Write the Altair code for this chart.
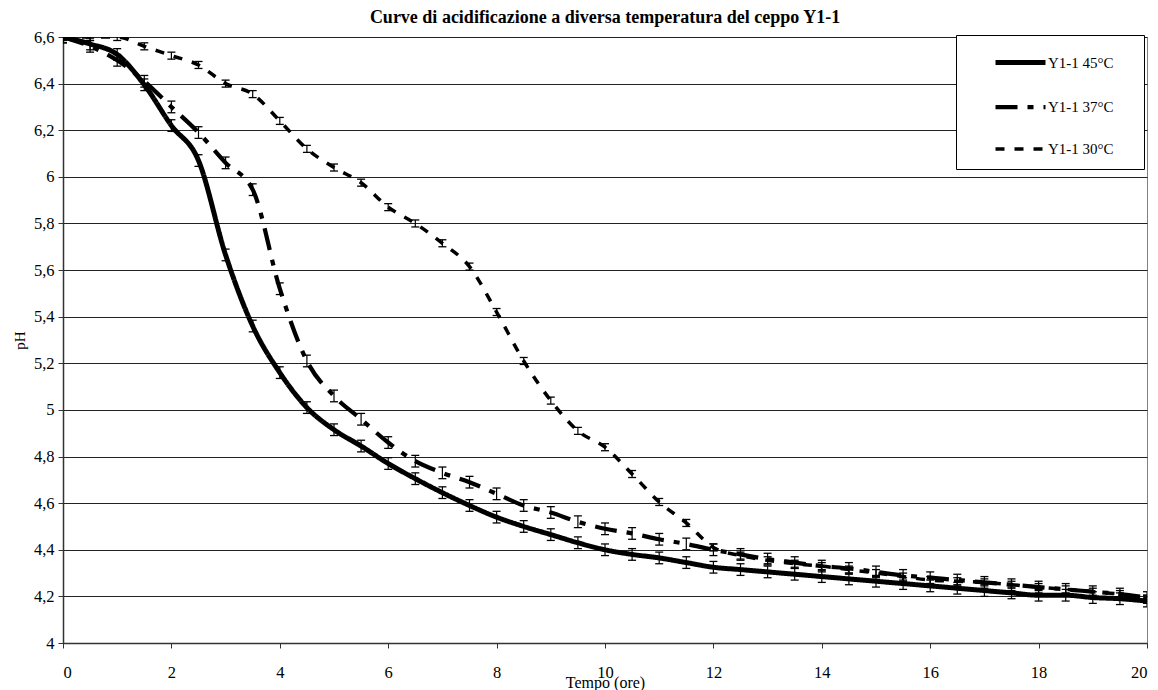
import altair as alt
import pandas as pd

TEMPO = [0, 0.5, 1, 1.5, 2, 2.5, 3, 3.5, 4, 4.5, 5, 5.5, 6, 6.5, 7, 7.5, 8, 8.5, 9, 9.5,
         10, 10.5, 11, 11.5, 12, 12.5, 13, 13.5, 14, 14.5, 15, 15.5, 16, 16.5, 17, 17.5,
         18, 18.5, 19, 19.5, 20]

PH_45 = [6.60, 6.57, 6.525, 6.395, 6.22, 6.07, 5.665, 5.36, 5.16, 5.01, 4.915, 4.845,
         4.77, 4.705, 4.645, 4.59, 4.54, 4.50, 4.465, 4.43, 4.40, 4.38, 4.365, 4.345,
         4.325, 4.315, 4.305, 4.295, 4.285, 4.275, 4.265, 4.255, 4.245, 4.235, 4.225,
         4.215, 4.205, 4.205, 4.195, 4.19, 4.18]

PH_37 = [6.60, 6.56, 6.50, 6.41, 6.30, 6.19, 6.06, 5.945, 5.52, 5.21, 5.06, 4.96,
         4.86, 4.78, 4.73, 4.69, 4.64, 4.59, 4.56, 4.52, 4.49, 4.47, 4.445, 4.425,
         4.40, 4.38, 4.36, 4.345, 4.33, 4.32, 4.305, 4.29, 4.28, 4.27, 4.26, 4.25,
         4.24, 4.23, 4.22, 4.21, 4.195]

PH_30 = [6.60, 6.60, 6.60, 6.56, 6.52, 6.48, 6.40, 6.355, 6.24, 6.12, 6.04, 5.975,
         5.87, 5.80, 5.715, 5.615, 5.42, 5.21, 5.04, 4.91, 4.84, 4.725, 4.605, 4.515,
         4.41, 4.375, 4.355, 4.34, 4.33, 4.315, 4.30, 4.285, 4.27, 4.265, 4.26, 4.25,
         4.24, 4.23, 4.22, 4.21, 4.19]

ERR_45 = 0.025
ERR_37 = 0.025
ERR_30 = 0.015

SERIE = ["Y1-1 45°C", "Y1-1 37°C", "Y1-1 30°C"]
X_TICKS = [0, 2, 4, 6, 8, 10, 12, 14, 16, 18, 20]
Y_TICKS = [4.0, 4.2, 4.4, 4.6, 4.8, 5.0, 5.2, 5.4, 5.6, 5.8, 6.0, 6.2, 6.4, 6.6]

rows = []
for name, vals, err in zip(SERIE, [PH_45, PH_37, PH_30], [ERR_45, ERR_37, ERR_30]):
    for t, v in zip(TEMPO, vals):
        rows.append({"Tempo": t, "pH": v, "Serie": name, "lo": v - err, "hi": v + err})
df = pd.DataFrame(rows)

FONT = "Liberation Serif"
PAD = "\u00a0" * 5 + "\u2800"   # trailing blank space inside the legend box

x_enc = alt.X("Tempo:Q",
              scale=alt.Scale(domain=[0, 20], nice=False),
              axis=alt.Axis(values=X_TICKS, title="Tempo (ore)", grid=False,
                            labelFont=FONT, labelFontSize=16.5, labelColor="black",
                            labelPadding=16, tickSize=5, tickColor="#333",
                            domainColor="#333", domainWidth=1.5,
                            titleFont=FONT, titleFontSize=16, titleFontWeight="normal",
                            titleColor="black", titleBaseline="alphabetic", titleY=44))
y_enc = alt.Y("pH:Q",
              scale=alt.Scale(domain=[4, 6.6], nice=False, zero=False),
              axis=alt.Axis(values=Y_TICKS, title="pH", grid=True, gridColor="#222",
                            gridWidth=1,
                            labelExpr="replace(toString(round(datum.value*10)/10), '.', ',')",
                            labelFont=FONT, labelFontSize=16.5, labelColor="black",
                            labelPadding=4, tickSize=5, tickColor="#333",
                            domainColor="#333", domainWidth=1.5,
                            titleFont=FONT, titleFontSize=15, titleFontWeight="normal",
                            titleColor="black", titleX=-36, titleBaseline="bottom"))

base = alt.Chart(df)

lines = base.mark_line(interpolate="monotone", clip=True, color="black").encode(
    x=x_enc, y=y_enc,
    strokeDash=alt.StrokeDash(
        "Serie:N",
        scale=alt.Scale(domain=SERIE, range=[[1, 0], [22, 10, 6, 10], [9, 10]]),
        sort=SERIE,
        legend=alt.Legend(title="\u2800", titleOrient="bottom", titleFontSize=10,
                          titlePadding=2, orient="none", legendX=893, legendY=-2,
                          symbolType="stroke", symbolSize=2500, symbolStrokeWidth=4.5,
                          symbolStrokeColor="black", labelFont=FONT, labelFontSize=15,
                          labelColor="black", labelOffset=0, padding=0, rowPadding=6.5,
                          symbolOffset=37, strokeColor="black", fillColor="white",
                          labelExpr="datum.label + '" + PAD + "'")),
    strokeWidth=alt.StrokeWidth("Serie:N",
                                scale=alt.Scale(domain=SERIE, range=[5, 3.5, 6]),
                                legend=None),
    detail="Serie:N",
)

bars = base.mark_rule(color="black", strokeWidth=1.2, clip=True).encode(
    x="Tempo:Q", y="lo:Q", y2="hi:Q")
cap_lo = base.mark_tick(orient="horizontal", size=8, thickness=1.3, color="black",
                        clip=True, opacity=1).encode(x="Tempo:Q", y="lo:Q")
cap_hi = base.mark_tick(orient="horizontal", size=8, thickness=1.3, color="black",
                        clip=True, opacity=1).encode(x="Tempo:Q", y="hi:Q")

chart = alt.layer(lines, bars, cap_lo, cap_hi).properties(
    width=1084, height=606,
    title=alt.TitleParams("Curve di acidificazione a diversa temperatura del ceppo Y1-1",
                          font=FONT, fontSize=18, fontWeight="bold", color="black",
                          anchor="middle", offset=2),
    autosize=alt.AutoSizeParams(type="none"),
    padding={"left": 55, "top": 29, "right": 3, "bottom": 47},
).configure_view(stroke="#808080", strokeWidth=1)

chart.save("out.html", embed_options={"renderer": "svg", "actions": False})
